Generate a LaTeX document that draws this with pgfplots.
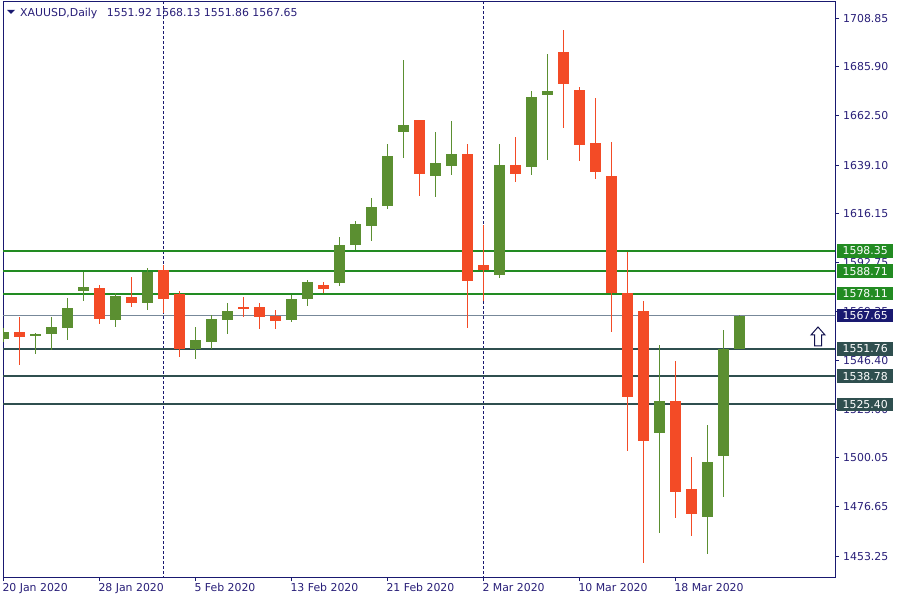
\documentclass[border=0pt]{standalone}
\usepackage{fontspec}
\setmainfont{DejaVu Sans}
\usepackage{pgfplots}
\pgfplotsset{compat=1.18}
\usepackage{pgfplotstable}

\definecolor{frame}{RGB}{25,25,112}
\definecolor{lbl}{RGB}{40,30,120}
\definecolor{bull}{RGB}{91,143,49}
\definecolor{bear}{RGB}{243,75,38}
\definecolor{lvlgreen}{RGB}{34,139,34}
\definecolor{lvlslate}{RGB}{47,79,79}
\definecolor{bidline}{RGB}{119,136,153}
\definecolor{bidbox}{RGB}{25,25,112}

% k = trading day index (0 = 20 Jan 2020), o h l c
\pgfplotstableread{
k  o       h       l       c
0  1556.63 1561.72 1555.06 1559.81
2  1558.06 1559.20 1549.50 1558.86
3  1559.00 1567.09 1551.26 1562.19
4  1561.85 1575.97 1556.01 1571.22
5  1579.30 1588.19 1574.69 1581.20
7  1565.52 1578.21 1562.33 1576.93
9  1573.75 1590.09 1570.27 1588.34
12 1551.73 1562.19 1546.83 1556.01
13 1555.20 1567.90 1551.59 1565.99
14 1565.52 1573.60 1558.86 1569.80
18 1565.52 1577.40 1564.56 1575.50
19 1575.64 1584.53 1572.32 1583.58
21 1583.25 1604.97 1581.82 1601.17
22 1601.32 1612.58 1598.80 1611.16
23 1610.35 1623.51 1603.07 1619.24
24 1619.86 1649.18 1618.43 1643.48
25 1655.04 1689.12 1642.68 1658.22
27 1634.12 1654.89 1624.13 1640.16
28 1638.87 1660.12 1634.59 1644.43
31 1587.05 1649.18 1585.63 1639.20
33 1638.40 1674.38 1634.59 1671.53
34 1672.63 1691.97 1641.72 1674.38
41 1511.94 1553.64 1464.40 1527.01
44 1472.01 1515.60 1454.41 1498.01
45 1501.00 1560.76 1481.51 1551.73
46 1551.92 1568.13 1551.86 1567.65
}\bull

\pgfplotstableread{
k  o       h       l       c
1  1559.81 1567.09 1544.27 1557.58
6  1580.73 1582.16 1563.76 1566.13
8  1576.45 1586.10 1571.84 1573.75
10 1589.29 1591.66 1568.99 1575.50
11 1578.02 1579.30 1548.07 1551.73
15 1571.70 1576.45 1567.09 1570.75
16 1571.70 1573.60 1561.24 1567.09
17 1567.42 1570.27 1561.24 1565.04
20 1582.16 1583.44 1578.21 1580.40
26 1660.60 1660.60 1624.61 1635.07
29 1644.43 1649.18 1561.85 1584.20
30 1591.66 1610.68 1574.69 1589.43
32 1639.20 1652.52 1631.27 1635.07
35 1692.92 1703.38 1656.94 1677.85
36 1674.86 1676.28 1641.25 1648.85
37 1649.66 1671.06 1632.69 1636.02
38 1633.97 1650.14 1559.96 1578.21
39 1578.21 1597.99 1503.38 1529.05
40 1569.80 1574.55 1450.14 1508.14
42 1527.01 1546.03 1471.53 1483.89
43 1485.18 1500.39 1462.97 1473.43
}\bear

\newcommand{\mtfont}{\fontsize{10.9bp}{13bp}\selectfont}

\begin{document}
\begin{tikzpicture}
\path[use as bounding box] (0,0) rectangle (900bp,600bp);
\begin{axis}[
  at={(3bp,23bp)}, anchor=south west,
  width=832bp, height=575bp, scale only axis,
  xmin=-0.02, xmax=51.98,
  ymin=1443.34, ymax=1716.69,
  clip mode=individual,
  axis line style={draw=frame, line width=1bp},
  tick align=outside,
  xtick pos=bottom, ytick pos=right, yticklabel pos=right,
  major tick length=4bp,
  tick style={draw=frame, line width=1bp},
  xtick={0,6,12,18,24,30,36,42},
  xticklabels={20 Jan 2020,28 Jan 2020,5 Feb 2020,13 Feb 2020,21 Feb 2020,2 Mar 2020,10 Mar 2020,18 Mar 2020},
  ytick={1453.25,1476.65,1500.05,1523.00,1546.40,1569.35,1592.75,1616.15,1639.10,1662.50,1685.90,1708.85},
  yticklabels={1453.25,1476.65,1500.05,1523.00,1546.40,1569.35,1592.75,1616.15,1639.10,1662.50,1685.90,1708.85},
  ticklabel style={font=\mtfont, text=lbl},
  xticklabel style={anchor=north west, inner sep=0pt, xshift=-1bp, yshift=-2bp},
  yticklabel style={anchor=west, inner sep=0pt, xshift=4bp},
]
% period separators
\addplot[frame, line width=1bp, dash pattern=on 3bp off 2bp, forget plot] coordinates {(10,1440) (10,1720)};
\addplot[frame, line width=1bp, dash pattern=on 3bp off 2bp, forget plot] coordinates {(30,1440) (30,1720)};

% levels
\addplot[lvlgreen, line width=2bp, forget plot] coordinates {(-1,1598.35) (53,1598.35)};
\addplot[lvlgreen, line width=2bp, forget plot] coordinates {(-1,1588.71) (53,1588.71)};
\addplot[lvlgreen, line width=2bp, forget plot] coordinates {(-1,1578.11) (53,1578.11)};
\addplot[bidline, line width=1bp, forget plot] coordinates {(-1,1567.65) (53,1567.65)};
\addplot[lvlslate, line width=2bp, forget plot] coordinates {(-1,1551.76) (53,1551.76)};
\addplot[lvlslate, line width=2bp, forget plot] coordinates {(-1,1538.78) (53,1538.78)};
\addplot[lvlslate, line width=2bp, forget plot] coordinates {(-1,1525.40) (53,1525.40)};

% wicks
\addplot[draw=none, mark=none, forget plot,
  error bars/.cd, y dir=both, y explicit, error mark=none,
  error bar style={draw=bull, line width=1.2bp, solid}]
  table[x=k, y expr={(\thisrow{h}+\thisrow{l})/2}, y error expr={(\thisrow{h}-\thisrow{l})/2}] {\bull};
\addplot[draw=none, mark=none, forget plot,
  error bars/.cd, y dir=both, y explicit, error mark=none,
  error bar style={draw=bear, line width=1.2bp, solid}]
  table[x=k, y expr={(\thisrow{h}+\thisrow{l})/2}, y error expr={(\thisrow{h}-\thisrow{l})/2}] {\bear};
% bodies
\addplot[draw=none, mark=none, forget plot,
  error bars/.cd, y dir=both, y explicit, error mark=none,
  error bar style={draw=bull, line width=11bp, solid}]
  table[x=k, y expr={(\thisrow{o}+\thisrow{c})/2}, y error expr={max(abs(\thisrow{c}-\thisrow{o})/2,0.3)}] {\bull};
\addplot[draw=none, mark=none, forget plot,
  error bars/.cd, y dir=both, y explicit, error mark=none,
  error bar style={draw=bear, line width=11bp, solid}]
  table[x=k, y expr={(\thisrow{o}+\thisrow{c})/2}, y error expr={max(abs(\thisrow{c}-\thisrow{o})/2,0.3)}] {\bear};

\coordinate (L1) at (axis cs:51.98,1598.35);
\coordinate (L2) at (axis cs:51.98,1588.71);
\coordinate (L3) at (axis cs:51.98,1578.11);
\coordinate (L4) at (axis cs:51.98,1567.65);
\coordinate (L5) at (axis cs:51.98,1551.76);
\coordinate (L6) at (axis cs:51.98,1538.78);
\coordinate (L7) at (axis cs:51.98,1525.40);
\end{axis}

\tikzset{pricebox/.style={anchor=west, text=white, font=\mtfont, minimum width=56bp, minimum height=13.5bp, inner sep=0pt, xshift=2bp}}
\node[pricebox, fill=lvlgreen] at (L1) {1598.35};
\node[pricebox, fill=lvlgreen] at (L2) {1588.71};
\node[pricebox, fill=lvlgreen] at (L3) {1578.11};
\node[pricebox, fill=bidbox] at (L4) {1567.65};
\node[pricebox, fill=lvlslate] at (L5) {1551.76};
\node[pricebox, fill=lvlslate] at (L6) {1538.78};
\node[pricebox, fill=lvlslate] at (L7) {1525.40};

% title
\fill[frame] (7bp,590bp) -- (15bp,590bp) -- (11bp,586bp) -- cycle;
\node[anchor=west, inner sep=0pt, font=\mtfont, text=lbl] at (20bp,587bp) {XAUUSD,Daily\hspace{6bp} 1551.92 1568.13 1551.86 1567.65};

% arrow sign
\draw[frame!70!black, line width=1bp, line join=miter] (818bp,273bp) -- (825bp,265bp) -- (821.5bp,265bp) -- (821.5bp,254bp) -- (814.5bp,254bp) -- (814.5bp,265bp) -- (811bp,265bp) -- cycle;
\end{tikzpicture}
\end{document}
